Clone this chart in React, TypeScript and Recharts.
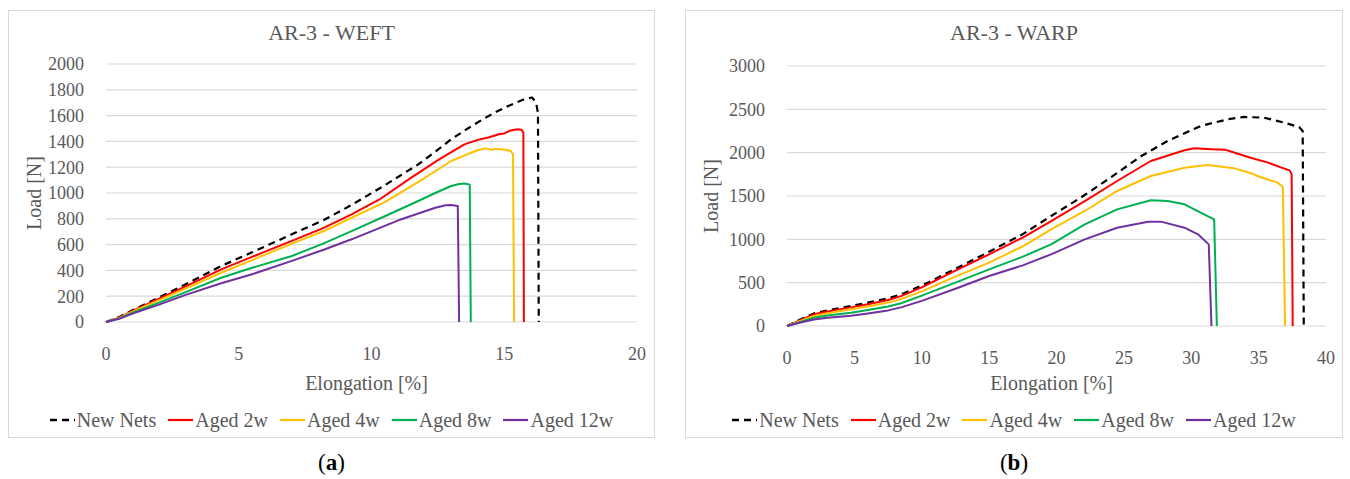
import React from "react";
import { LineChart, Line, XAxis, YAxis, CartesianGrid } from "recharts";

type Pt = [number, number];

const seriesNames = ["New Nets", "Aged 2w", "Aged 4w", "Aged 8w", "Aged 12w"];
const seriesColors = ["#000000", "#FF0000", "#FFC000", "#00B050", "#7030A0"];

const weftTicksX = [0, 5, 10, 15, 20];
const weftTicksY = [0, 200, 400, 600, 800, 1000, 1200, 1400, 1600, 1800, 2000];
const warpTicksX = [0, 5, 10, 15, 20, 25, 30, 35, 40];
const warpTicksY = [0, 500, 1000, 1500, 2000, 2500, 3000];

// WEFT: elongation [%], load [N]
const weftNewNets: Pt[] = [[0, 0], [0.5, 38], [1, 92], [2, 190], [3, 292], [4.34, 434], [5.5, 540], [7, 680], [8.2, 790], [9.25, 907], [10.5, 1060], [11.76, 1222], [12.4, 1320], [13, 1416], [13.7, 1510], [14.3, 1584], [14.7, 1630], [15.15, 1674], [15.5, 1705], [15.8, 1731], [16.05, 1740], [16.2, 1700], [16.27, 1620], [16.3, 0]];
const weftAged2w: Pt[] = [[0, 0], [0.5, 34], [1, 86], [2, 180], [3, 276], [4.34, 408], [5.5, 505], [7, 629], [8.2, 730], [9.25, 835], [10.3, 950], [11.4, 1106], [12.5, 1255], [13.5, 1377], [14, 1412], [14.4, 1430], [14.8, 1455], [15, 1462], [15.2, 1482], [15.5, 1494], [15.65, 1490], [15.72, 1468], [15.74, 0]];
const weftAged4w: Pt[] = [[0, 0], [0.5, 32], [1, 80], [2, 170], [3, 260], [4.34, 382], [5.5, 480], [7, 608], [8.2, 705], [9.25, 808], [10.5, 930], [11.8, 1090], [13, 1248], [13.6, 1300], [14, 1331], [14.3, 1346], [14.5, 1335], [14.7, 1342], [15, 1338], [15.25, 1325], [15.33, 1300], [15.37, 0]];
const weftAged8w: Pt[] = [[0, 0], [0.5, 28], [1, 72], [2, 150], [3, 232], [4.34, 343], [5.5, 420], [7, 512], [8.2, 610], [9.25, 705], [10.5, 820], [11.76, 938], [12.4, 1000], [13, 1054], [13.3, 1070], [13.5, 1074], [13.7, 1065], [13.74, 0]];
const weftAged12w: Pt[] = [[0, 0], [0.5, 25], [1, 65], [2, 135], [3, 210], [4.34, 300], [5.5, 370], [7, 474], [8.2, 560], [9.25, 641], [10.2, 720], [11.1, 795], [12.4, 886], [12.8, 905], [13, 907], [13.25, 900], [13.3, 0]];

// WARP
const warpNewNets: Pt[] = [[0, 0], [1, 75], [2, 145], [3, 180], [4.75, 230], [6, 270], [7.5, 320], [8.46, 365], [10, 465], [12.5, 660], [15, 857], [17.5, 1060], [19.6, 1269], [21.8, 1481], [24, 1711], [26.3, 1962], [28.25, 2135], [30.7, 2308], [32.7, 2385], [33.9, 2412], [35.4, 2404], [36.9, 2346], [38, 2296], [38.27, 2250], [38.35, 0]];
const warpAged2w: Pt[] = [[0, 0], [1, 68], [2, 135], [3, 168], [4.75, 215], [6, 250], [7.5, 300], [8.46, 345], [10, 445], [12.5, 640], [15, 827], [17.5, 1020], [19.6, 1211], [22.1, 1442], [24.5, 1673], [27, 1904], [29.5, 2027], [30.2, 2050], [31.5, 2040], [32.5, 2035], [33, 2010], [34.4, 1942], [35.7, 1885], [36.7, 1827], [37.3, 1796], [37.45, 1750], [37.53, 0]];
const warpAged4w: Pt[] = [[0, 0], [1, 58], [2, 115], [3, 148], [4.75, 192], [6, 225], [7.5, 270], [8.46, 310], [10, 400], [12.5, 570], [15, 731], [17.5, 920], [19.6, 1115], [22.1, 1327], [24.5, 1558], [27, 1731], [29.5, 1827], [31.2, 1858], [33.2, 1819], [34.5, 1760], [34.9, 1731], [36.4, 1654], [36.8, 1604], [36.96, 0]];
const warpAged8w: Pt[] = [[0, 0], [1, 48], [2, 95], [3, 122], [4.75, 154], [6, 185], [7.5, 225], [8.46, 262], [10, 350], [12.5, 500], [15, 654], [17.5, 800], [19.6, 942], [22.1, 1173], [24.5, 1346], [27, 1450], [28.25, 1442], [29.5, 1404], [30.7, 1308], [31.7, 1231], [31.9, 0]];
const warpAged12w: Pt[] = [[0, 0], [1, 40], [2, 75], [3, 95], [4.75, 118], [6, 145], [7.5, 180], [8.46, 215], [10, 290], [12.5, 430], [15, 577], [17.5, 700], [19.6, 827], [22.1, 1000], [24.5, 1134], [26.8, 1204], [27.75, 1204], [29.5, 1134], [30.5, 1058], [31.3, 942], [31.5, 0]];

const FONT = "'Liberation Serif', 'Times New Roman', serif";
const GREY = "#595959";

interface PanelProps {
  left: number;
  width: number;
  title: string;
  caption: string;
  series: Pt[][];
  xTicks: number[];
  yTicks: number[];
  margin: { top: number; right: number; left: number; bottom: number };
  yAxisWidth: number;
  xTitleDy: number;
}

function Panel({ left, width, title, caption, series, xTicks, yTicks, margin, yAxisWidth, xTitleDy }: PanelProps) {
  const height = 428;
  const xMax = xTicks[xTicks.length - 1];
  const yMax = yTicks[yTicks.length - 1];

  return (
    <>
      <div style={{ position: "absolute", left, top: 10, width, height, border: "1px solid #d9d9d9", boxSizing: "border-box", background: "#fff" }}>
        <div style={{ position: "absolute", left: 0, top: 10, width: "100%", textAlign: "center", fontFamily: FONT, fontSize: 22, lineHeight: "24px", color: GREY }}>
          {title}
        </div>
        <LineChart width={width} height={height} margin={margin} style={{ position: "absolute", left: 0, top: 0 }}>
          <CartesianGrid vertical={false} stroke="#d9d9d9" strokeWidth={1.2} />
          <XAxis
            type="number"
            dataKey="x"
            domain={[0, xMax]}
            ticks={xTicks}
            interval={0}
            axisLine={false}
            tickLine={false}
            tickSize={0}
            tickMargin={25}
            height={70}
            tick={{ fill: GREY, fontSize: 18, fontFamily: FONT }}
            label={(p: any) => {
              const vb = p.viewBox;
              return (
                <text x={vb.x + vb.width / 2 - 5} y={vb.y + xTitleDy} textAnchor="middle" dominantBaseline="central" fill={GREY} fontSize={20} fontFamily={FONT}>
                  Elongation [%]
                </text>
              );
            }}
          />
          <YAxis
            type="number"
            domain={[0, yMax]}
            ticks={yTicks}
            interval={0}
            width={yAxisWidth}
            axisLine={false}
            tickLine={false}
            tickSize={0}
            tickMargin={22}
            tick={{ fill: GREY, fontSize: 18, fontFamily: FONT }}
            label={(p: any) => {
              const vb = p.viewBox;
              const cx = 25;
              const cy = vb.y + vb.height / 2;
              return (
                <text x={cx} y={cy} transform={`rotate(-90 ${cx} ${cy})`} textAnchor="middle" dominantBaseline="central" fill={GREY} fontSize={20} fontFamily={FONT}>
                  Load [N]
                </text>
              );
            }}
          />
          {series.map((s, i) => (
            <Line
              key={seriesNames[i]}
              data={s.map(([x, y]) => ({ x, y }))}
              dataKey="y"
              name={seriesNames[i]}
              type="linear"
              stroke={seriesColors[i]}
              strokeWidth={i === 0 ? 2.2 : 2}
              strokeDasharray={i === 0 ? "7 5" : undefined}
              strokeLinejoin="round"
              dot={false}
              isAnimationActive={false}
            />
          ))}
        </LineChart>
        <div style={{ position: "absolute", left: 0, top: 396, width: "100%", height: 26, display: "flex", justifyContent: "center", alignItems: "center", gap: 12, fontFamily: FONT, fontSize: 20, color: GREY }}>
          {seriesNames.map((n, i) => (
            <div key={n} style={{ display: "flex", alignItems: "center" }}>
              <svg width={25} height={6} style={{ marginRight: 2 }}>
                <line x1={0} y1={3} x2={25} y2={3} stroke={seriesColors[i]} strokeWidth={i === 0 ? 2.5 : 2.2} strokeDasharray={i === 0 ? "7 5" : undefined} />
              </svg>
              <span>{n}</span>
            </div>
          ))}
        </div>
      </div>
      <div style={{ position: "absolute", left, top: 449, width, textAlign: "center", fontFamily: FONT, fontSize: 23, lineHeight: "28px", color: "#000" }}>
        (<b>{caption}</b>)
      </div>
    </>
  );
}

export default function App() {
  return (
    <div style={{ position: "absolute", left: 0, top: 0, width: 1350, height: 479, background: "#fff", overflow: "hidden" }}>
      <Panel
        left={8}
        width={647}
        title="AR-3 - WEFT"
        caption="a"
        series={[weftNewNets, weftAged2w, weftAged4w, weftAged8w, weftAged12w]}
        xTicks={weftTicksX}
        yTicks={weftTicksY}
        margin={{ top: 53, right: 19, left: 0, bottom: 47 }}
        yAxisWidth={97}
        xTitleDy={61}
      />
      <Panel
        left={685}
        width={658}
        title="AR-3 - WARP"
        caption="b"
        series={[warpNewNets, warpAged2w, warpAged4w, warpAged8w, warpAged12w]}
        xTicks={warpTicksX}
        yTicks={warpTicksY}
        margin={{ top: 55, right: 18, left: 0, bottom: 43 }}
        yAxisWidth={101}
        xTitleDy={57}
      />
    </div>
  );
}
